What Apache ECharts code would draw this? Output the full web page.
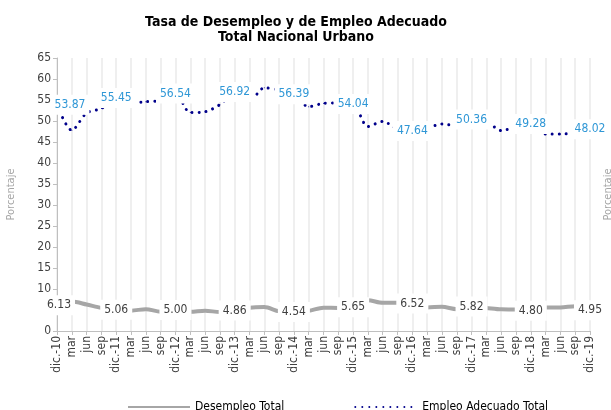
<!DOCTYPE html>
<html>
<head>
<meta charset="utf-8">
<script src="https://cdn.jsdelivr.net/npm/echarts@6/dist/echarts.min.js"></script>
<style>
  html, body { margin: 0; padding: 0; background: #fff; }
  #main { width: 611px; height: 410px; }
</style>
</head>
<body>
<div id="main"></div>
<script>
var FONT = "'Liberation Sans Narrow', 'DejaVu Sans Condensed', 'Liberation Sans', sans-serif";

var categories = [
  'dic.-10', 'mar', 'jun', 'sep',
  'dic.-11', 'mar', 'jun', 'sep',
  'dic.-12', 'mar', 'jun', 'sep',
  'dic.-13', 'mar', 'jun', 'sep',
  'dic.-14', 'mar', 'jun', 'sep',
  'dic.-15', 'mar', 'jun', 'sep',
  'dic.-16', 'mar', 'jun', 'sep',
  'dic.-17', 'mar', 'jun', 'sep',
  'dic.-18', 'mar', 'jun', 'sep',
  'dic.-19'
];

// Desempleo Total (%)
var desempleo = [
  6.13, 7.0, 6.3, 5.5,
  5.06, 4.85, 5.2, 4.6,
  5.00, 4.6, 4.85, 4.5,
  4.86, 5.55, 5.7, 4.7,
  4.54, 4.8, 5.55, 5.5,
  5.65, 7.35, 6.7, 6.7,
  6.52, 5.62, 5.78, 5.2,
  5.82, 5.5, 5.15, 5.1,
  4.80, 5.6, 5.6, 5.9,
  4.95
];

// Empleo Adecuado Total (%)
var empleo = [
  53.87, 47.8, 51.9, 53.0,
  55.45, 54.3, 54.6, 54.9,
  56.54, 52.0, 52.2, 53.9,
  56.92, 54.8, 57.9, 57.4,
  56.39, 53.4, 54.2, 54.3,
  54.04, 48.7, 49.9, 48.1,
  47.64, 48.3, 49.3, 48.9,
  50.36, 50.0, 47.7, 48.6,
  49.28, 46.9, 46.9, 47.2,
  48.02
];

function withLabels(values, firstOffset) {
  return values.map(function (v, i) {
    var item = { value: v, label: { show: i % 4 === 0 } };
    if (i === 0) item.label.offset = firstOffset;
    return item;
  });
}

var chart = echarts.init(document.getElementById('main'));

chart.setOption({
  animation: false,
  title: {
    text: 'Tasa de Desempleo y de Empleo Adecuado\nTotal Nacional Urbano',
    left: 291,
    top: 10,
    textAlign: 'center',
    textStyle: { fontFamily: FONT, fontSize: 14, fontWeight: 'bold', color: '#000', lineHeight: 15 }
  },
  grid: { left: 57, right: 21, top: 58, bottom: 79, outerBoundsMode: 'none', containLabel: false },
  legend: {
    left: 122,
    top: 396,
    itemGap: 70,
    itemWidth: 62,
    itemHeight: 10,
    itemStyle: { opacity: 0 },
    textStyle: { fontFamily: FONT, fontSize: 12, color: '#000' },
    data: ['Desempleo Total', 'Empleo Adecuado Total']
  },
  xAxis: {
    type: 'category',
    data: categories,
    boundaryGap: false,
    axisLine: { lineStyle: { color: '#bfbfbf', width: 1 } },
    axisTick: { show: true, length: 4, lineStyle: { color: '#bfbfbf' } },
    axisLabel: { interval: 0, rotate: 90, fontFamily: FONT, fontSize: 12, color: '#404040', margin: 5 },
    splitLine: { show: true, lineStyle: { color: '#efefef', width: 2 } }
  },
  yAxis: [{
    type: 'value',
    min: 0,
    max: 65,
    interval: 5,
    name: 'Porcentaje',
    nameLocation: 'middle',
    nameRotate: 90,
    nameGap: 20,
    nameTextStyle: { fontFamily: FONT, fontSize: 11, color: '#a6a6a6', padding: [0, 0, 20, 0] },
    axisLine: { show: true, lineStyle: { color: '#bfbfbf' } },
    axisTick: { show: true, length: 4, lineStyle: { color: '#bfbfbf' } },
    axisLabel: { fontFamily: FONT, fontSize: 12, color: '#404040', margin: 6 },
    splitLine: { show: false }
  }, {
    type: 'value',
    min: 0,
    max: 65,
    interval: 5,
    position: 'right',
    name: 'Porcentaje',
    nameLocation: 'middle',
    nameRotate: 90,
    nameGap: 13,
    nameTextStyle: { fontFamily: FONT, fontSize: 11, color: '#a6a6a6', padding: [0, 0, 10, 0] },
    axisLine: { show: false },
    axisTick: { show: false },
    axisLabel: { show: false },
    splitLine: { show: false }
  }],
  series: [{
    name: 'Desempleo Total',
    type: 'line',
    smooth: 0.3,
    symbol: 'circle',
    symbolSize: 1,
    itemStyle: { color: '#a6a6a6' },
    lineStyle: { color: '#a6a6a6', width: 4 },
    label: {
      position: 'inside',
      formatter: function (p) { return p.value.toFixed(2); },
      fontFamily: FONT,
      fontSize: 12,
      color: '#404040',
      backgroundColor: '#fff',
      padding: [4, 4]
    },
    data: withLabels(desempleo, [2, 0])
  }, {
    name: 'Empleo Adecuado Total',
    type: 'line',
    smooth: 0.3,
    symbol: 'circle',
    symbolSize: 1,
    itemStyle: { color: '#00008b' },
    lineStyle: { color: '#00008b', width: 3, type: [0.01, 7], cap: 'round' },
    label: {
      position: 'inside',
      formatter: function (p) { return p.value.toFixed(2); },
      fontFamily: FONT,
      fontSize: 12,
      color: '#2f97d6',
      backgroundColor: '#fff',
      padding: [4, 4]
    },
    data: withLabels(empleo, [13, 0])
  }]
});
</script>
</body>
</html>
